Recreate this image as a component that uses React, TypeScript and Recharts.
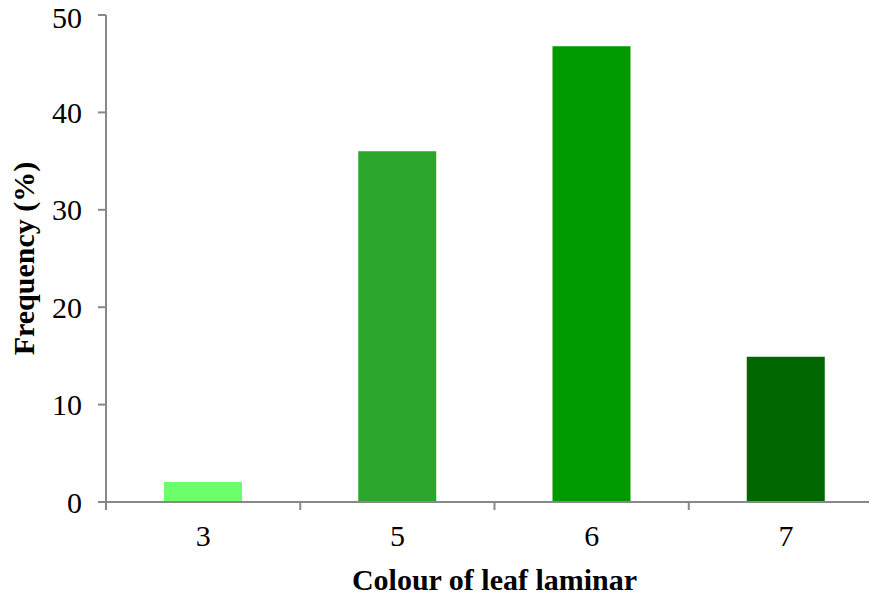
import React from 'react';
import { BarChart, Bar, XAxis, YAxis, Cell } from 'recharts';

const categories = ['3', '5', '6', '7'];
const frequency = [2.05, 36.0, 46.8, 14.9];
const barColors = ['#6cff6c', '#2ca52c', '#009900', '#006600'];
const yTicks = [0, 10, 20, 30, 40, 50];

const data = categories.map((c, i) => ({ name: c, value: frequency[i] }));

const AXIS = '#888888';
const FONT = '"Liberation Serif", "Times New Roman", serif';
const X_TICK_MARGIN = 23;
const X_TICK_LEN = 8;

// category label plus Excel-style tick marks on the band edges
const CategoryTick = (props: any) => {
  const { x, y, width, payload, index } = props;
  const step = width / categories.length;
  const axisY = y - X_TICK_MARGIN;
  const left = x - step / 2;
  const right = x + step / 2;
  return (
    <g>
      <line x1={left} x2={left} y1={axisY} y2={axisY + X_TICK_LEN} stroke={AXIS} strokeWidth={2} />
      {index === categories.length - 1 && (
        <line x1={right} x2={right} y1={axisY} y2={axisY + X_TICK_LEN} stroke={AXIS} strokeWidth={2} />
      )}
      <text x={x} y={y} dy="0.71em" textAnchor="middle" fill="#000" fontSize={30} fontFamily={FONT}>
        {payload.value}
      </text>
    </g>
  );
};

const App: React.FC = () => {
  return (
    <div style={{ margin: -8, width: 877, height: 598, overflow: 'hidden', background: '#fff' }}>
      <BarChart width={883} height={598} data={data} margin={{ top: 15, right: 0, left: 0, bottom: 0 }}>
        <XAxis
          dataKey="name"
          height={96}
          axisLine={{ stroke: AXIS, strokeWidth: 2 }}
          tickLine={false}
          tickSize={0}
          tickMargin={X_TICK_MARGIN}
          tick={<CategoryTick />}
          interval={0}
          label={{
            value: 'Colour of leaf laminar',
            position: 'insideBottom',
            offset: 8,
            style: { fill: '#000', fontSize: 30, fontWeight: 'bold', fontFamily: FONT },
          }}
        />
        <YAxis
          width={106}
          domain={[0, 50]}
          ticks={yTicks}
          axisLine={{ stroke: AXIS, strokeWidth: 2 }}
          tickLine={{ stroke: AXIS, strokeWidth: 2 }}
          tickSize={8}
          tickMargin={16}
          tick={{ fill: '#000', fontSize: 30, fontFamily: FONT }}
          label={{
            value: 'Frequency (%)',
            angle: -90,
            position: 'insideLeft',
            offset: 23,
            style: { fill: '#000', fontSize: 30, fontWeight: 'bold', fontFamily: FONT, textAnchor: 'middle' },
          }}
        />
        <Bar dataKey="value" barSize={78} isAnimationActive={false}>
          {data.map((d, i) => (
            <Cell key={d.name} fill={barColors[i]} />
          ))}
        </Bar>
      </BarChart>
    </div>
  );
};

export default App;
